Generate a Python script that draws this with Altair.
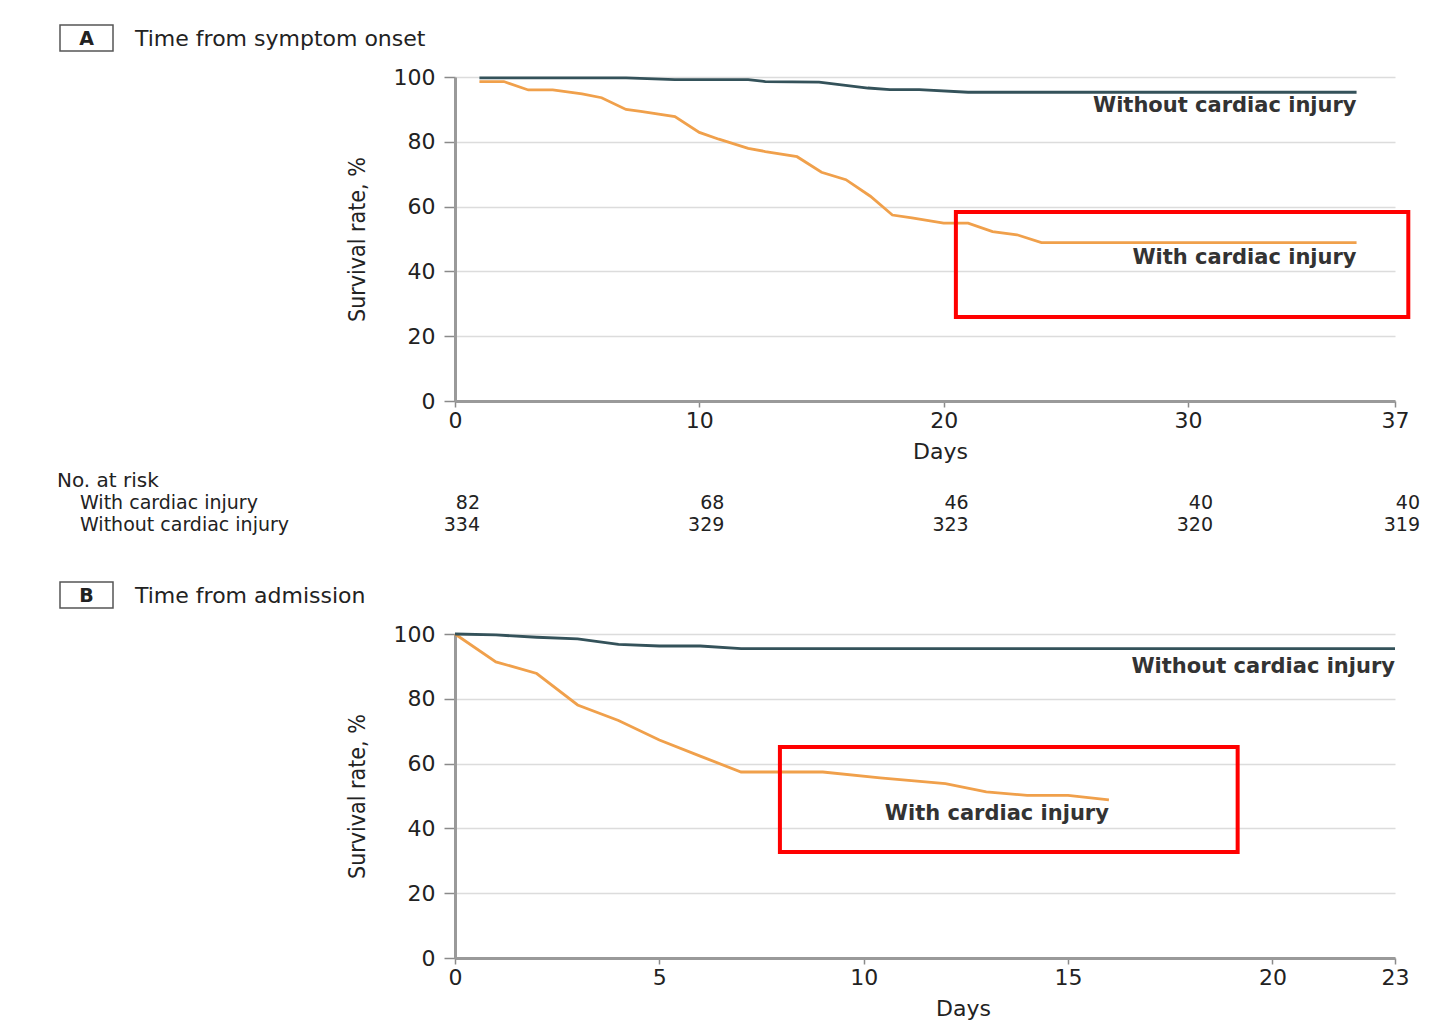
import altair as alt
import pandas as pd

# ---------------- data ----------------
# Panel A: time from symptom onset
a_with_days = [1, 2, 3, 4, 5.2, 6, 7, 7.6, 9, 10, 10.8, 12, 12.7, 14, 15, 16, 17, 17.9, 18.7, 20, 21, 22, 23, 24, 35.7]
a_with_surv = [98.6, 98.6, 96.0, 96.0, 94.8, 93.6, 90.0, 89.4, 87.8, 82.9, 80.8, 78.0, 77.0, 75.4, 70.6, 68.3, 63.2,
               57.4, 56.5, 54.9, 54.9, 52.3, 51.3, 48.9, 48.9]
a_without_days = [1, 7, 9, 12, 12.7, 14.9, 16.9, 17.8, 19, 21, 35.7]
a_without_surv = [99.7, 99.7, 99.2, 99.2, 98.6, 98.4, 96.6, 96.1, 96.1, 95.3, 95.3]

# Panel B: time from admission
b_with_days = [0, 1, 2, 3, 4, 5, 6, 7, 9, 10.4, 12, 13, 14, 15, 16]
b_with_surv = [100, 91.4, 87.8, 78.1, 73.3, 67.3, 62.3, 57.4, 57.4, 55.6, 53.8, 51.3, 50.2, 50.2, 48.8]
b_without_days = [0, 1, 2, 3, 4, 5, 6, 7, 23]
b_without_surv = [100, 99.7, 99.0, 98.5, 96.8, 96.3, 96.3, 95.5, 95.5]

groups = ["With cardiac injury", "Without cardiac injury"]

# Number at risk (panel A)
risk_days = [0, 10, 20, 30, 37]
risk_with = [82, 68, 46, 40, 40]
risk_without = [334, 329, 323, 320, 319]

a_ticks = [0, 10, 20, 30, 37]
b_ticks = [0, 5, 10, 15, 20, 23]
y_ticks = [0, 20, 40, 60, 80, 100]

# highlight boxes (data coordinates: day, survival %)
a_box = dict(x1=20.5, x2=37.45, y1=58.3, y2=25.9)
b_box = dict(x1=7.95, x2=19.15, y1=65.1, y2=32.7)

# ---------------- style ----------------
FONT = "DejaVu Sans"
TXT = "#222222"
ORANGE = "#f0a04b"
DARK = "#34525a"
W, H = 940, 324
FS = 22

color_scale = alt.Scale(domain=groups, range=[ORANGE, DARK])
y_scale = alt.Scale(domain=[0, 100])


def series_df(wd, ws, wod, wos):
    rows = [{"day": d, "surv": s, "group": groups[0]} for d, s in zip(wd, ws)]
    rows += [{"day": d, "surv": s, "group": groups[1]} for d, s in zip(wod, wos)]
    return pd.DataFrame(rows)


def panel(letter, title, df, x_scale, ticks, box, label_dy, days_x, table=False):
    x_axis = alt.Axis(values=ticks, grid=False, domainColor="#9a9a9a", domainWidth=3,
                      tickColor="#8a8a8a", tickSize=6, tickWidth=1.5, labelFont=FONT,
                      labelFontSize=FS, labelColor=TXT, labelPadding=3, labelFlush=False,
                      title="Days", titleFont=FONT, titleFontSize=FS, titleFontWeight="normal",
                      titleColor=TXT, titlePadding=10, titleX=days_x, format="d")
    y_axis = alt.Axis(values=y_ticks, grid=True, gridColor="#dcdcdc", gridWidth=1.5,
                      domainColor="#9a9a9a", domainWidth=3, tickColor="#8a8a8a",
                      tickSize=11, tickWidth=1.5, labelFont=FONT, labelFontSize=FS,
                      labelColor=TXT, labelPadding=9, title="Survival rate, %",
                      titleFont="DejaVu Sans Condensed", titleFontSize=23,
                      titleFontWeight="normal", titleColor=TXT, titlePadding=24)
    X = lambda f: alt.X(f, scale=x_scale, axis=x_axis, title="Days")
    Y = lambda f: alt.Y(f, scale=y_scale, axis=y_axis, title="Survival rate, %")

    lines = alt.Chart(df).mark_line(strokeWidth=2.8, interpolate="linear").encode(
        x=X("day:Q"), y=Y("surv:Q"),
        color=alt.Color("group:N", scale=color_scale, legend=None),
        detail="group:N",
    )

    last = df.sort_values("day").groupby("group").tail(1).copy()
    labels = []
    for g in groups:
        sub = last[last["group"] == g]
        labels.append(alt.Chart(sub).mark_text(align="right", baseline="middle", dy=label_dy[g],
                                               font=FONT, fontSize=21, fontWeight="bold",
                                               color="#333333").encode(
            x=X("day:Q"), y=Y("surv:Q"), text="group:N"))

    box_df = pd.DataFrame([box])
    hl = alt.Chart(box_df).mark_rect(fillOpacity=0, stroke="#ff0000", strokeWidth=4).encode(
        x=X("x1:Q"), x2="x2:Q", y=Y("y1:Q"), y2="y2:Q")

    one = pd.DataFrame({"letter": [letter], "title": [title]})
    badge = alt.Chart(one).mark_rect(fill="white", stroke="#555555", strokeWidth=1.5).encode(
        x=alt.value(-395), x2=alt.value(-342), y=alt.value(-52), y2=alt.value(-26))
    badge_txt = alt.Chart(one).mark_text(font=FONT, fontSize=19, fontWeight="bold", color=TXT,
                                         align="center", baseline="middle").encode(
        x=alt.value(-368.5), y=alt.value(-38), text="letter:N")
    title_txt = alt.Chart(one).mark_text(font=FONT, fontSize=FS, color=TXT, align="left",
                                         baseline="middle").encode(
        x=alt.value(-320), y=alt.value(-38), text="title:N")

    layers = [lines] + labels + [hl, badge, badge_txt, title_txt]

    if table:
        rdf = pd.DataFrame({"day": risk_days, "w": risk_with, "wo": risk_without})
        t1 = alt.Chart(rdf).mark_text(font=FONT, fontSize=19, color=TXT, align="right",
                                      baseline="middle", dx=25).encode(
            x=X("day:Q"), y=alt.value(426), text="w:Q")
        t2 = alt.Chart(rdf).mark_text(font=FONT, fontSize=19, color=TXT, align="right",
                                      baseline="middle", dx=25).encode(
            x=X("day:Q"), y=alt.value(448), text="wo:Q")
        hdr = pd.DataFrame({"t": ["No. at risk", groups[0], groups[1]],
                            "xx": [-398, -375, -375], "yy": [404, 426, 448],
                            "fs": [20, 19, 19]})
        heads = []
        for _, r in hdr.iterrows():
            heads.append(alt.Chart(pd.DataFrame({"t": [r["t"]]})).mark_text(
                font=FONT, fontSize=int(r["fs"]), color=TXT, align="left",
                baseline="middle").encode(
                x=alt.value(float(r["xx"])), y=alt.value(float(r["yy"])), text="t:N"))
        layers += [t1, t2] + heads

    return alt.layer(*layers).properties(width=W, height=H)


dfa = series_df(a_with_days, a_with_surv, a_without_days, a_without_surv)
dfb = series_df(b_with_days, b_with_surv, b_without_days, b_without_surv)

xs_a = alt.Scale(domain=[0, 30, 37], range=[0, 733, 940], nice=False, zero=False)
xs_b = alt.Scale(domain=[0, 23], nice=False, zero=False)

top = panel("A", "Time from symptom onset", dfa, xs_a, a_ticks, a_box,
            {groups[0]: 15, groups[1]: 14}, 485, table=True)
bottom = panel("B", "Time from admission", dfb, xs_b, b_ticks, b_box,
               {groups[0]: 14, groups[1]: 18}, 508)

chart = alt.vconcat(top, bottom, spacing=46).configure_view(stroke=None).properties(
    padding={"left": 49, "top": 16, "right": 5, "bottom": 5}, background="white")

chart.save("out.html", embed_options={"renderer": "svg", "actions": False})
